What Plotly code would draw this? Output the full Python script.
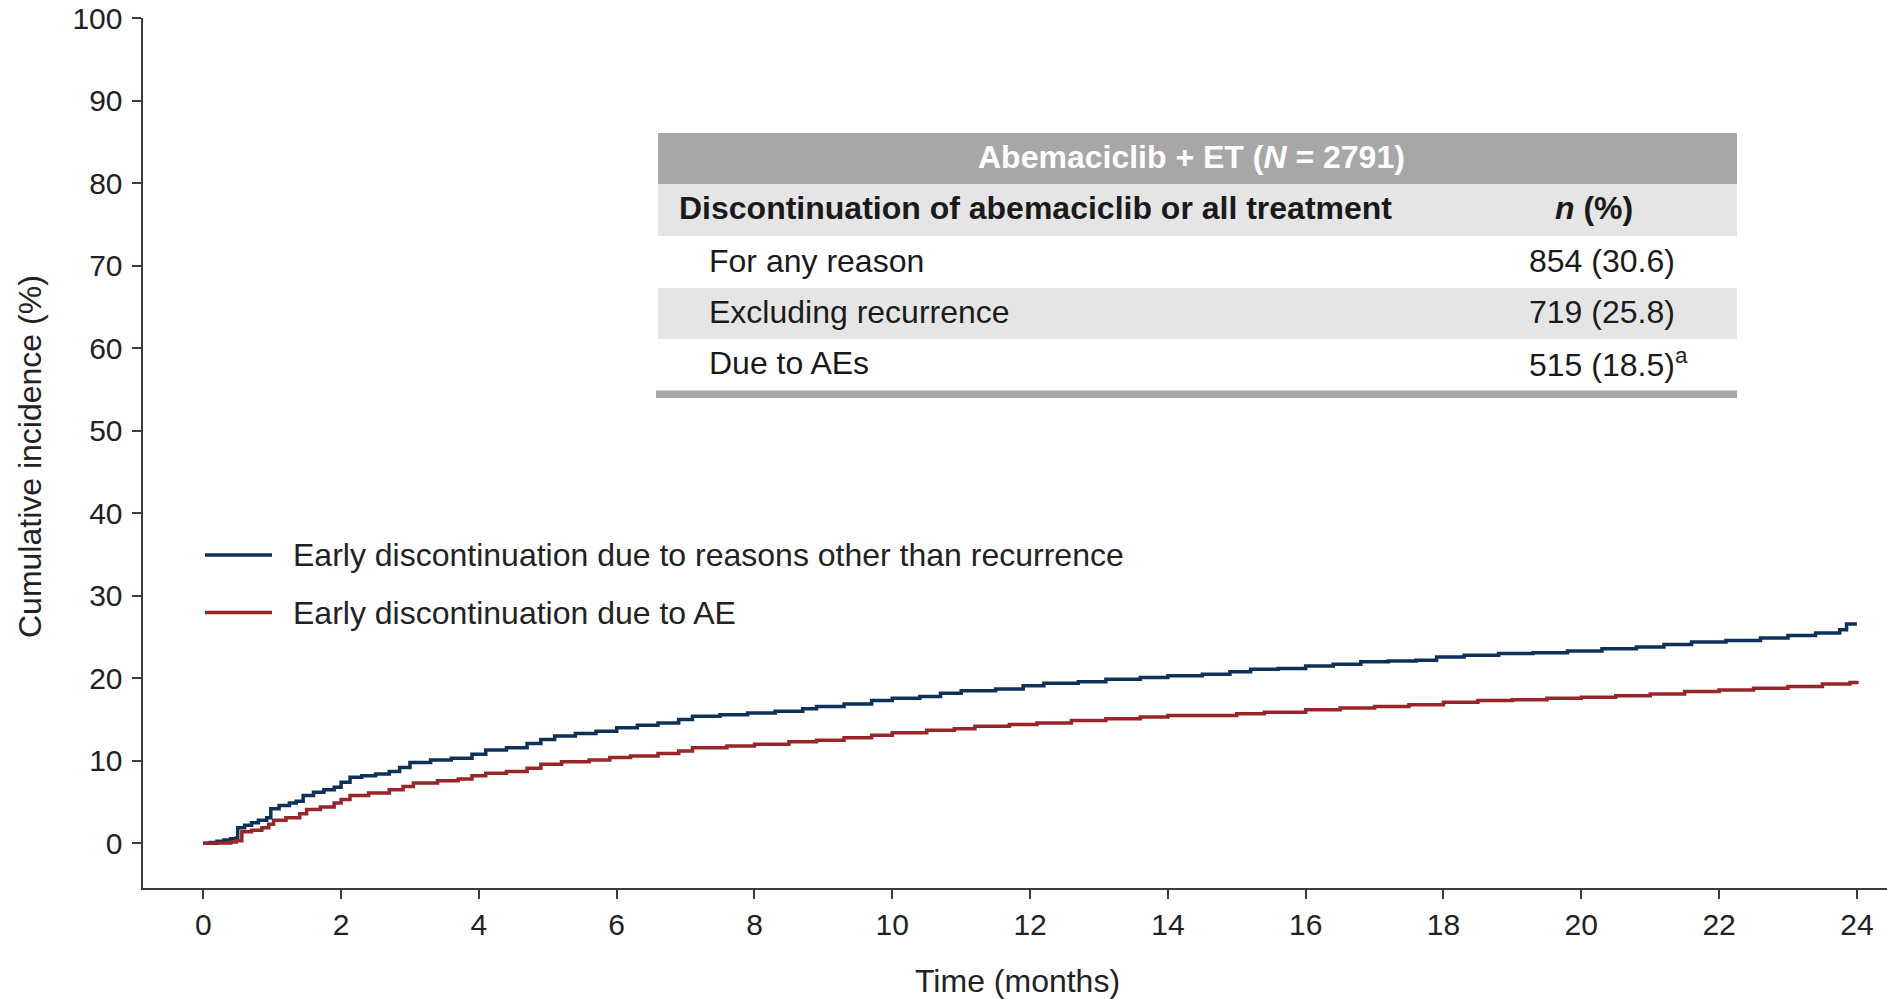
import plotly.graph_objects as go

# ---- Cumulative incidence curves (months, %) ----
other_t = [0, 0.1, 0.2, 0.3, 0.4, 0.48, 0.5, 0.6, 0.7, 0.8, 0.92, 0.98, 1.1, 1.25, 1.35,
           1.45, 1.6, 1.75, 1.9, 2.0, 2.13, 2.3, 2.5, 2.7, 2.85, 3.0, 3.3, 3.6, 3.9, 4.1,
           4.4, 4.7, 4.9, 5.1, 5.4, 5.7, 6.0, 6.3, 6.6, 6.9, 7.1, 7.5, 7.9, 8.3, 8.7, 8.9,
           9.3, 9.7, 10.0, 10.4, 10.7, 11.0, 11.5, 11.9, 12.2, 12.7, 13.1, 13.6, 14.0,
           14.5, 14.9, 15.2, 15.6, 16.0, 16.4, 16.8, 17.2, 17.6, 17.9, 18.3, 18.8, 19.3,
           19.8, 20.3, 20.8, 21.2, 21.6, 22.1, 22.6, 23.0, 23.4, 23.75, 23.85, 24.0]
other_ci = [0, 0.1, 0.25, 0.4, 0.55, 0.65, 1.9, 2.2, 2.5, 2.8, 3.1, 4.2, 4.6, 4.9, 5.1,
            5.8, 6.2, 6.5, 6.8, 7.4, 8.0, 8.2, 8.4, 8.7, 9.2, 9.8, 10.1, 10.3, 10.8, 11.3,
            11.6, 12.1, 12.6, 13.0, 13.3, 13.6, 14.0, 14.3, 14.6, 15.0, 15.4, 15.6, 15.8,
            16.0, 16.3, 16.6, 16.9, 17.3, 17.6, 17.8, 18.2, 18.5, 18.7, 19.1, 19.4, 19.6,
            19.9, 20.1, 20.3, 20.5, 20.8, 21.1, 21.2, 21.5, 21.7, 22.0, 22.1, 22.2, 22.6,
            22.8, 23.0, 23.1, 23.3, 23.6, 23.8, 24.1, 24.4, 24.6, 24.9, 25.2, 25.5, 25.9,
            26.6, 26.6]

ae_t = [0, 0.2, 0.4, 0.48, 0.56, 0.7, 0.85, 0.95, 1.02, 1.2, 1.4, 1.5, 1.7, 1.9, 2.0,
        2.13, 2.4, 2.7, 2.9, 3.05, 3.4, 3.7, 3.9, 4.1, 4.4, 4.7, 4.9, 5.2, 5.6, 5.9, 6.2,
        6.6, 6.9, 7.1, 7.6, 8.0, 8.5, 8.9, 9.3, 9.7, 10.0, 10.5, 10.9, 11.2, 11.7, 12.1,
        12.6, 13.1, 13.6, 14.0, 14.5, 15.0, 15.4, 16.0, 16.5, 17.0, 17.5, 18.0, 18.5,
        19.0, 19.5, 20.0, 20.5, 21.0, 21.5, 22.0, 22.5, 23.0, 23.5, 23.9, 24.0]
ae_ci = [0, 0.05, 0.15, 0.3, 1.4, 1.6, 1.9, 2.3, 2.8, 3.1, 3.6, 4.1, 4.4, 4.9, 5.3,
         5.8, 6.1, 6.5, 6.9, 7.3, 7.6, 7.8, 8.2, 8.5, 8.7, 9.1, 9.6, 9.9, 10.1, 10.4,
         10.6, 10.9, 11.2, 11.6, 11.8, 12.0, 12.3, 12.5, 12.8, 13.1, 13.4, 13.7, 13.9,
         14.2, 14.4, 14.6, 14.9, 15.1, 15.3, 15.5, 15.5, 15.7, 15.9, 16.2, 16.4, 16.6,
         16.8, 17.1, 17.3, 17.4, 17.6, 17.7, 17.9, 18.1, 18.4, 18.6, 18.8, 19.0, 19.3,
         19.5, 19.7]

series_names = ["Early discontinuation due to reasons other than recurrence",
                "Early discontinuation due to AE"]
series_colors = ["#0e3159", "#982529"]

x_ticks = list(range(0, 25, 2))
y_ticks = list(range(0, 101, 10))

# ---- Summary table ----
table_title = "Abemaciclib + ET (<i>N</i> = 2791)"
table_head = ["Discontinuation of abemaciclib or all treatment", "<i>n</i> (%)"]
table_rows = ["For any reason", "Excluding recurrence", "Due to AEs"]
table_vals = ["854 (30.6)", "719 (25.8)", "515 (18.5)<sup>a</sup>"]

FONT = "Liberation Sans, Arial, Helvetica, sans-serif"
W, H = 1887, 999


def px(x):
    return x / W


def py(y):
    return 1 - y / H


fig = go.Figure()
for t, v, name, col in zip([other_t, ae_t], [other_ci, ae_ci], series_names, series_colors):
    fig.add_trace(go.Scatter(x=t, y=v, mode="lines", name=name,
                             line=dict(color=col, width=3.5, shape="hv"),
                             showlegend=False))

shapes = []
annotations = []

# legend drawn as line samples plus labels
for i, (name, col) in enumerate(zip(series_names, series_colors)):
    yy = 555 + i * 57.5
    shapes.append(dict(type="line", xref="paper", yref="paper",
                       x0=px(205), x1=px(272), y0=py(yy), y1=py(yy),
                       line=dict(color=col, width=3.5)))
    annotations.append(dict(xref="paper", yref="paper", x=px(290.5), y=py(yy),
                            text=name, showarrow=False, xanchor="left", yanchor="middle",
                            font=dict(family=FONT, size=32, color="#222222")))

# table backgrounds
TL, TR = 658, 1737
shapes.append(dict(type="rect", xref="paper", yref="paper", x0=px(TL), x1=px(TR),
                   y0=py(184), y1=py(133), fillcolor="#a7a7a7", line=dict(width=0), layer="below"))
shapes.append(dict(type="rect", xref="paper", yref="paper", x0=px(TL), x1=px(TR),
                   y0=py(236), y1=py(184), fillcolor="#e5e5e5", line=dict(width=0), layer="below"))
shapes.append(dict(type="rect", xref="paper", yref="paper", x0=px(TL), x1=px(TR),
                   y0=py(339), y1=py(288), fillcolor="#e5e5e5", line=dict(width=0), layer="below"))
shapes.append(dict(type="rect", xref="paper", yref="paper", x0=px(TL - 2), x1=px(TR),
                   y0=py(398), y1=py(390.5), fillcolor="#a7a7a7", line=dict(width=0), layer="below"))

annotations.append(dict(xref="paper", yref="paper", x=px(1191), y=py(157.5),
                        text="<b>" + table_title + "</b>", showarrow=False,
                        xanchor="center", yanchor="middle",
                        font=dict(family=FONT, size=32, color="white")))
annotations.append(dict(xref="paper", yref="paper", x=px(677), y=py(208),
                        text="<b>" + table_head[0] + "</b>", showarrow=False,
                        xanchor="left", yanchor="middle",
                        font=dict(family=FONT, size=32, color="#1a1a1a")))
annotations.append(dict(xref="paper", yref="paper", x=px(1594), y=py(208),
                        text="<b>" + table_head[1] + "</b>", showarrow=False,
                        xanchor="center", yanchor="middle",
                        font=dict(family=FONT, size=32, color="#1a1a1a")))
for i, (lab, val) in enumerate(zip(table_rows, table_vals)):
    yy = 261 + i * 51
    annotations.append(dict(xref="paper", yref="paper", x=px(707), y=py(yy),
                            text=lab, showarrow=False, xanchor="left", yanchor="middle",
                            font=dict(family=FONT, size=32, color="#1a1a1a")))
    annotations.append(dict(xref="paper", yref="paper", x=px(1527), y=py(yy),
                            text=val, showarrow=False, xanchor="left", yanchor="middle",
                            font=dict(family=FONT, size=32, color="#1a1a1a")))

# axis titles
annotations.append(dict(xref="paper", yref="paper", x=px(1017), y=py(981),
                        text="Time (months)", showarrow=False, xanchor="center", yanchor="middle",
                        font=dict(family=FONT, size=32, color="#222222")))
annotations.append(dict(xref="paper", yref="paper", x=px(30), y=py(457),
                        text="Cumulative incidence (%)", showarrow=False, textangle=-90,
                        xanchor="center", yanchor="middle",
                        font=dict(family=FONT, size=32, color="#222222")))

axis_common = dict(showgrid=False, zeroline=False, showline=True, linecolor="#3c3c3c",
                   linewidth=2, ticks="outside", ticklen=9, tickwidth=1.5, tickcolor="#3c3c3c",
                   tickfont=dict(family=FONT, size=30, color="#222222"), automargin=False)

fig.update_layout(
    width=W, height=H,
    margin=dict(l=0, r=0, t=0, b=0),
    paper_bgcolor="white", plot_bgcolor="white",
    xaxis=dict(domain=[142.5 / W, 1], range=[-0.882, 24.437], tickvals=x_ticks,
               ticklabelstandoff=0, **axis_common),
    yaxis=dict(domain=[1 - 888.3 / H, 1 - 18.3 / H], range=[-5.45, 100], tickvals=y_ticks,
               ticklabelstandoff=3, **axis_common),
    shapes=shapes, annotations=annotations,
    showlegend=False,
)

fig.write_html("out.html")
